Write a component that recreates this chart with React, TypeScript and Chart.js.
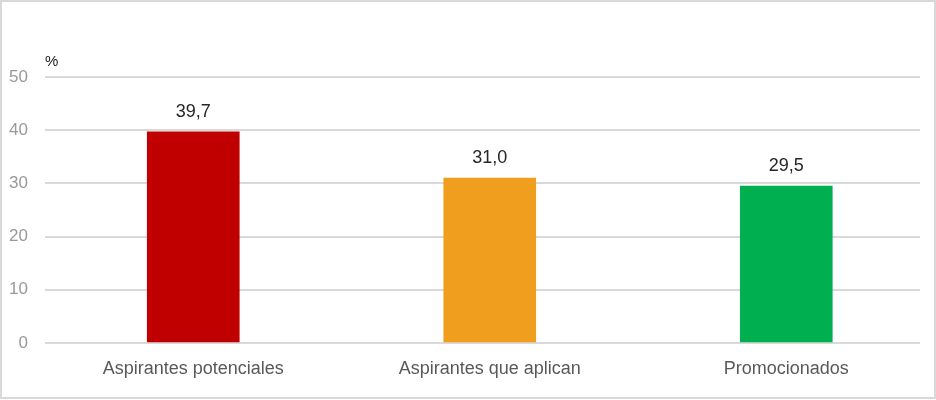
import React, { useEffect, useRef } from "react";
import { Chart, registerables } from "chart.js";

Chart.register(...registerables);

const categories = ["Aspirantes potenciales", "Aspirantes que aplican", "Promocionados"];
const values = [39.7, 31.0, 29.5];
const barColors = ["#c00000", "#f09e1e", "#00b050"];
const yTicks = [0, 10, 20, 30, 40, 50];
const unitLabel = "%";

const FONT = "'Liberation Sans', Arial, Helvetica, sans-serif";

const framePlugin = {
  id: "frame",
  beforeDraw(chart: any) {
    const { ctx, width, height } = chart;
    ctx.save();
    ctx.fillStyle = "#ffffff";
    ctx.fillRect(0, 0, width, height);
    ctx.strokeStyle = "#d9d9d9";
    ctx.lineWidth = 2;
    ctx.strokeRect(1, 1, width - 2, height - 3);
    ctx.restore();
  },
  afterDraw(chart: any) {
    const { ctx, chartArea } = chart;
    ctx.save();
    ctx.fillStyle = "#1a1a1a";
    ctx.font = `15px ${FONT}`;
    ctx.textAlign = "left";
    ctx.textBaseline = "middle";
    ctx.fillText(unitLabel, chartArea.left, 62);
    const meta = chart.getDatasetMeta(0);
    ctx.font = `18px ${FONT}`;
    ctx.fillStyle = "#262626";
    ctx.textAlign = "center";
    meta.data.forEach((bar: any, i: number) => {
      ctx.fillText(values[i].toFixed(1).replace(".", ","), bar.x, bar.y - 20);
    });
    ctx.restore();
  },
};

export default function App() {
  const ref = useRef<HTMLCanvasElement>(null);
  useEffect(() => {
    document.body.style.margin = "0";
    const chart = new Chart(ref.current!, {
      type: "bar",
      data: {
        datasets: [
          {
            data: values.map((v, i) => ({ x: i, y: v })),
            backgroundColor: barColors,
            barThickness: 92,
          },
        ],
      },
      options: {
        animation: false,
        responsive: false,
        layout: { padding: { top: 77, right: 16, left: 0, bottom: 0 } },
        plugins: { legend: { display: false }, tooltip: { enabled: false } },
        scales: {
          x: {
            type: "linear",
            min: -0.5,
            max: 2.451,
            offset: false,
            grid: { display: false, drawTicks: false },
            border: { display: false },
            afterBuildTicks: (scale: any) => {
              scale.ticks = categories.map((_, i) => ({ value: i }));
            },
            afterFit: (scale: any) => {
              scale.height = 57;
            },
            ticks: {
              padding: 15,
              color: "#595959",
              font: { family: FONT, size: 18 },
              maxRotation: 0,
              autoSkip: false,
              callback: (v: any) => categories[Math.round(Number(v))] ?? "",
            },
          },
          y: {
            min: 0,
            max: 50,
            grid: { color: "#d9d9d9", lineWidth: 2, drawTicks: false },
            border: { display: false },
            afterBuildTicks: (scale: any) => {
              scale.ticks = yTicks.map((v) => ({ value: v }));
            },
            afterFit: (scale: any) => {
              scale.width = 45;
            },
            ticks: {
              padding: 17,
              color: "#999999",
              font: { family: FONT, size: 17 },
            },
          },
        },
      },
      plugins: [framePlugin],
    } as any);
    return () => chart.destroy();
  }, []);
  return <canvas ref={ref} width={936} height={400} style={{ display: "block" }} />;
}
